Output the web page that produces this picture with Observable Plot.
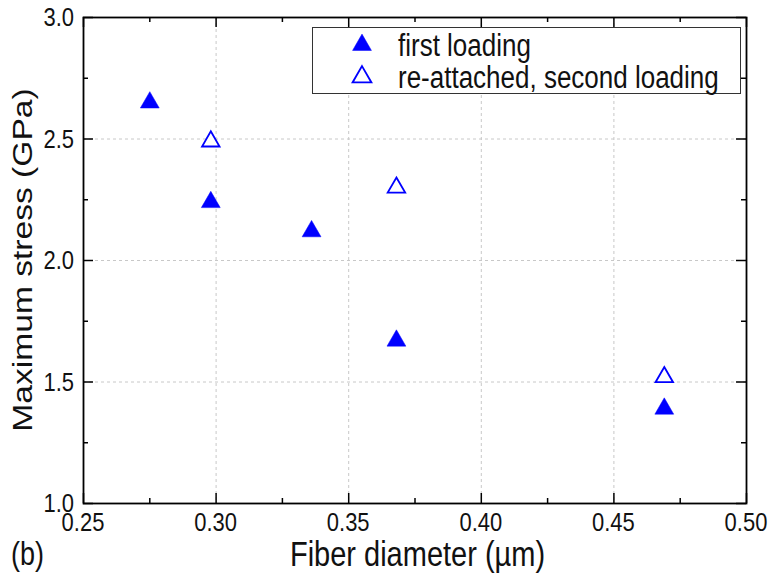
<!DOCTYPE html>
<html>
<head>
<meta charset="utf-8">
<script src="https://cdn.jsdelivr.net/npm/d3@7"></script>
<script src="https://cdn.jsdelivr.net/npm/@observablehq/plot@0.6"></script>
<style>
  html, body { margin: 0; padding: 0; background: #fff; }
  #chart { position: relative; width: 769px; height: 578px; }
</style>
</head>
<body>
<div id="chart"></div>
<script>
// ---- data ----
const diameterFirst = [0.275, 0.298, 0.336, 0.368, 0.469];
const stressFirst = [2.65, 2.24, 2.12, 1.67, 1.39];
const diameterSecond = [0.298, 0.368, 0.469];
const stressSecond = [2.49, 2.30, 1.52];
const seriesNames = ["first loading", "re-attached, second loading"];
const xMajor = [0.25, 0.30, 0.35, 0.40, 0.45, 0.50];
const xMinor = [0.275, 0.325, 0.375, 0.425, 0.475];
const yMajor = [1.0, 1.5, 2.0, 2.5, 3.0];
const yMinor = [1.25, 1.75, 2.25, 2.75];
const xTitle = "Fiber diameter (µm)";
const yTitle = "Maximum stress (GPa)";
const panelLabel = "(b)";

const first = diameterFirst.map((d, i) => ({x: d, y: stressFirst[i]}));
const second = diameterSecond.map((d, i) => ({x: d, y: stressSecond[i]}));

const W = 769, H = 578;
const mT = 17, mB = 75, mL = 83, mR = 23;
const iw = W - mL - mR, ih = H - mT - mB;
const FONT = "'Liberation Sans', Arial, Helvetica, sans-serif";
const blue = "#0000ff";
const major = 10, minor = 5;
const STRETCH = 1.2; // lettering in the reference is taller than wide

const plot = Plot.plot({
  width: W, height: H,
  marginTop: mT, marginBottom: mB, marginLeft: mL, marginRight: mR,
  style: {fontFamily: FONT, background: "#fff", overflow: "visible"},
  x: {domain: [0.25, 0.50], axis: null},
  y: {domain: [1.0, 3.0], axis: null},
  marks: [
    Plot.gridX(xMajor.slice(1, -1), {stroke: "#c8c8c8", strokeOpacity: 1, strokeDasharray: "3,3"}),
    Plot.gridY(yMajor.slice(1, -1), {stroke: "#c8c8c8", strokeOpacity: 1, strokeDasharray: "3,3"}),
    // inward ticks: bottom, top, left, right
    Plot.tickX(xMajor, {x: d => d, insetTop: ih - major, stroke: "#000", strokeWidth: 1.5}),
    Plot.tickX(xMinor, {x: d => d, insetTop: ih - minor, stroke: "#000", strokeWidth: 1.5}),
    Plot.tickX(xMajor, {x: d => d, insetBottom: ih - major, stroke: "#000", strokeWidth: 1.5}),
    Plot.tickX(xMinor, {x: d => d, insetBottom: ih - minor, stroke: "#000", strokeWidth: 1.5}),
    Plot.tickY(yMajor, {y: d => d, insetRight: iw - major, stroke: "#000", strokeWidth: 1.5}),
    Plot.tickY(yMinor, {y: d => d, insetRight: iw - minor, stroke: "#000", strokeWidth: 1.5}),
    Plot.tickY(yMajor, {y: d => d, insetLeft: iw - major, stroke: "#000", strokeWidth: 1.5}),
    Plot.tickY(yMinor, {y: d => d, insetLeft: iw - minor, stroke: "#000", strokeWidth: 1.5}),
    Plot.frame({stroke: "#000", strokeWidth: 1.8}),
    // data
    Plot.dot(first, {x: "x", y: "y", symbol: "triangle", r: 7, fill: blue, stroke: blue, strokeWidth: 0.5}),
    Plot.dot(second, {x: "x", y: "y", symbol: "triangle", r: 6.5, fill: "#fff", stroke: blue, strokeWidth: 1.8})
  ]
});

document.getElementById("chart").appendChild(plot);

const xs = plot.scale("x"), ys = plot.scale("y");
const pLeft = xs.range[0], pRight = xs.range[1];
const pBottom = ys.range[0], pTop = ys.range[1];
const svg = d3.select(plot);
const tg = svg.append("g").attr("font-family", FONT).attr("fill", "#111");

// helper: text drawn taller than wide, like the reference
function label(g, str, px, py, size, anchor, rotate) {
  const sc = `scale(1,${STRETCH})`;
  g.append("text")
    .attr("transform", `translate(${px},${py}) ${sc}${rotate ? ` rotate(${rotate})` : ""}`)
    .attr("text-anchor", anchor)
    .attr("dy", "0.35em")
    .attr("font-size", size)
    .text(str);
}

// tick labels through the plot's scales
xMajor.forEach(v => label(tg, d3.format(".2f")(v), xs.apply(v), pBottom + 19, 22, "middle"));
yMajor.forEach(v => label(tg, d3.format(".1f")(v), pLeft - 9, ys.apply(v), 22, "end"));

// axis titles and panel label
label(tg, xTitle, (pLeft + pRight) / 2 + 3, pBottom + 51, 29, "middle");
label(tg, yTitle, pLeft - 61, (pTop + pBottom) / 2, 28, "middle", -90);
label(tg, panelLabel, pLeft - 72, pBottom + 51, 27, "start");

// legend drawn inside the plot area
const lg = svg.append("g").attr("font-family", FONT);
lg.append("rect").attr("x", 312.5).attr("y", 27.5).attr("width", 428).attr("height", 66)
  .attr("fill", "#fff").attr("stroke", "#333").attr("stroke-width", 1);
const sym = d3.symbol().type(d3.symbolTriangle).size(Math.PI * 49);
const rows = [
  {name: seriesNames[0], fill: blue, y: 45},
  {name: seriesNames[1], fill: "#fff", y: 77}
];
rows.forEach(r => {
  lg.append("path").attr("d", sym()).attr("transform", `translate(362,${r.y})`)
    .attr("fill", r.fill).attr("stroke", blue).attr("stroke-width", r.fill === blue ? 0.5 : 1.8);
  label(lg.append("g").attr("fill", "#111"), r.name, 398, r.y, 26, "start");
});
</script>
</body>
</html>
